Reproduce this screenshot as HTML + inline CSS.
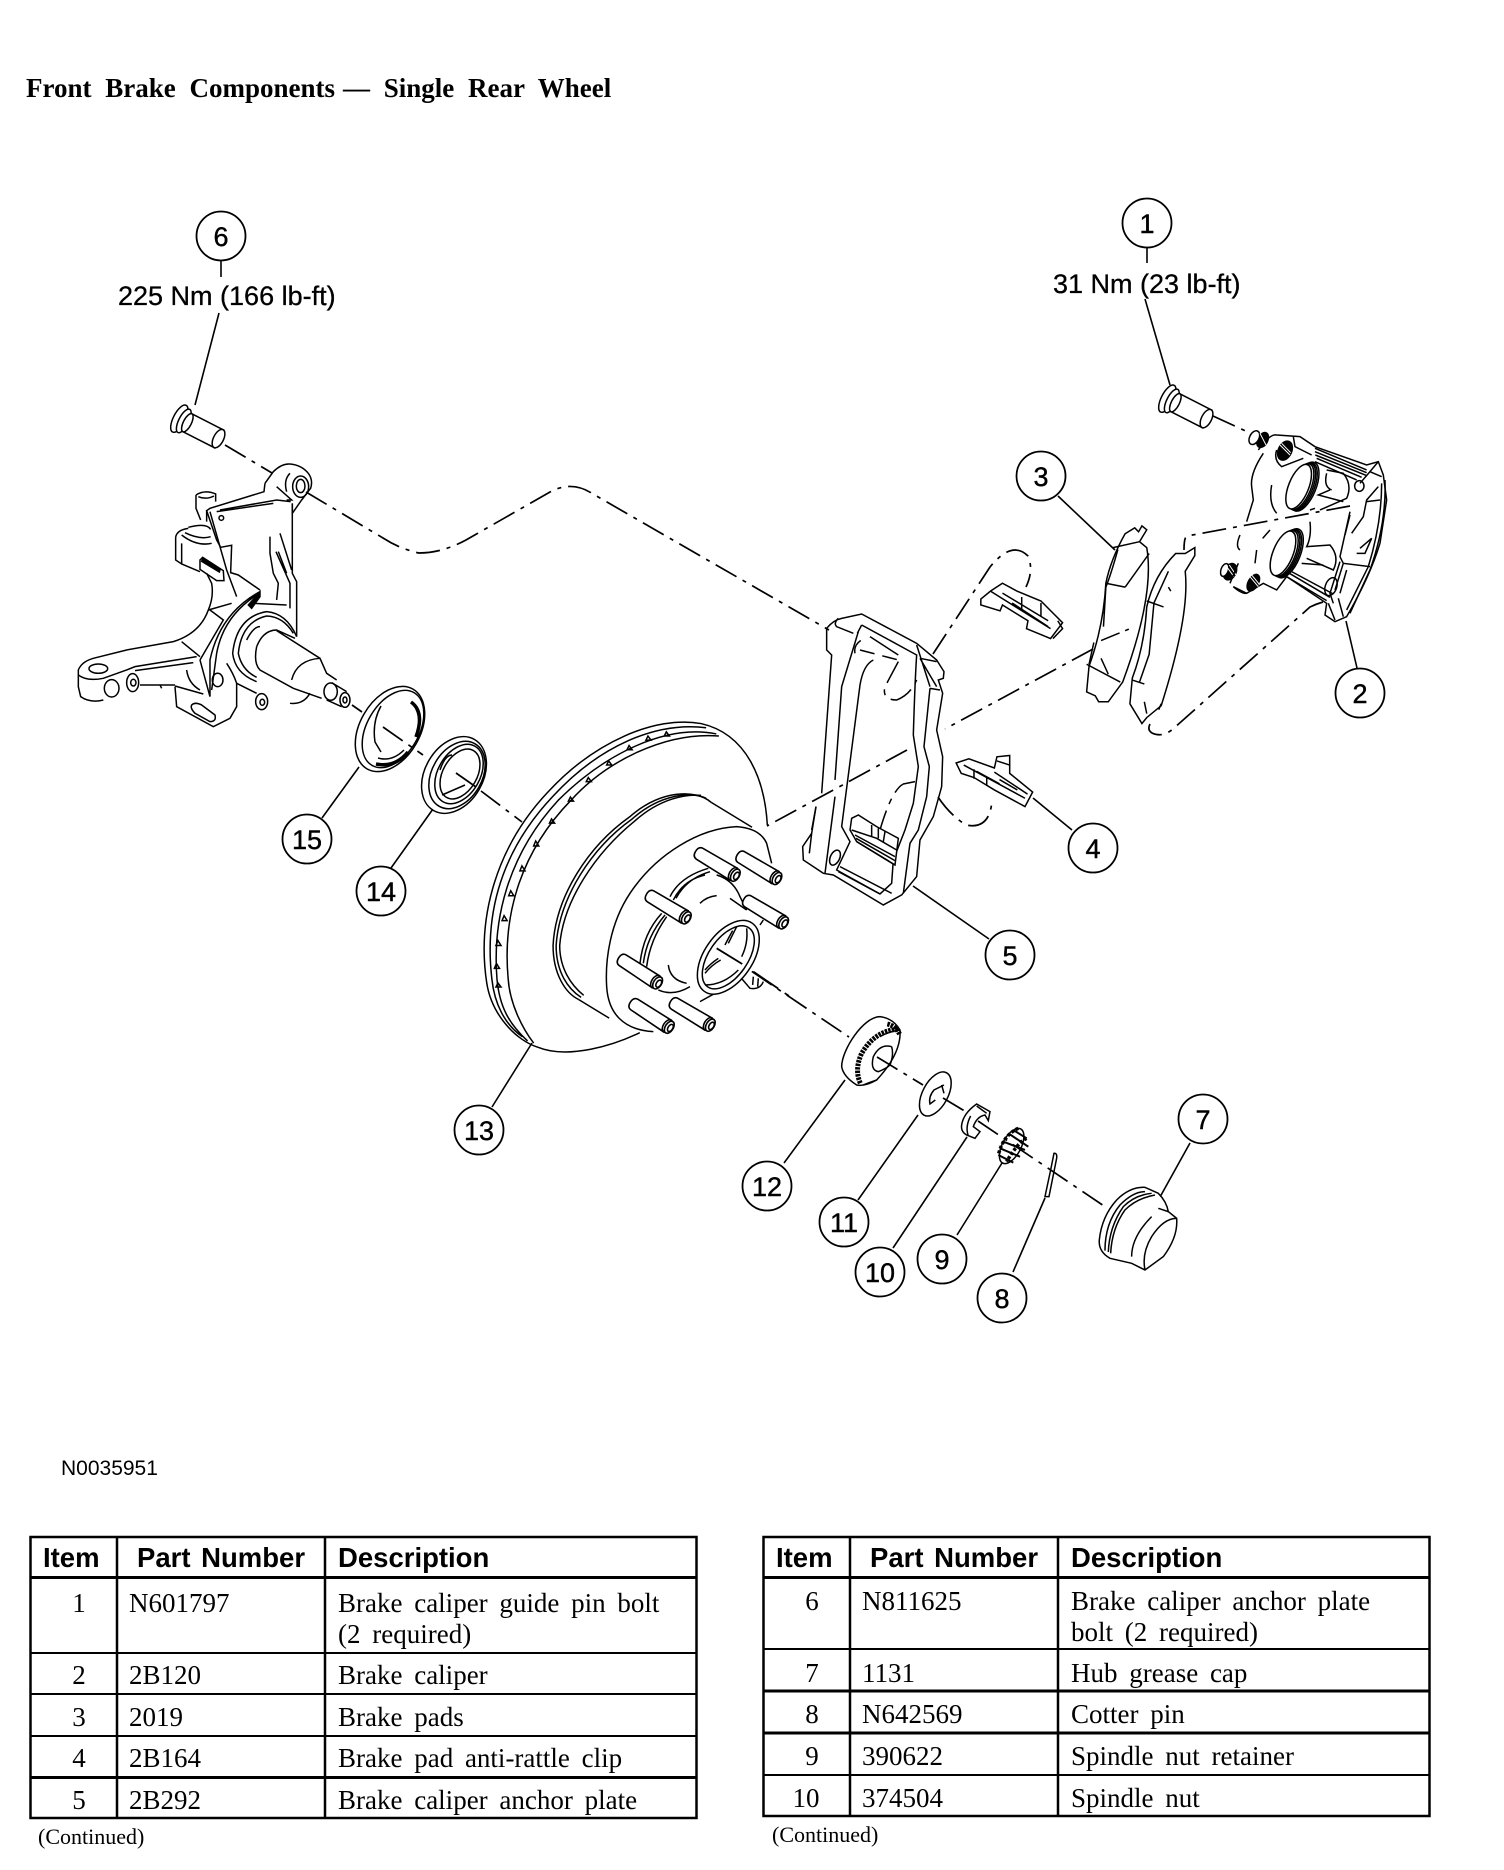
<!DOCTYPE html>
<html><head><meta charset="utf-8"><title>Front Brake Components</title>
<style>
html,body{margin:0;padding:0;background:#fff}
svg{display:block}
path,line,ellipse,circle,polyline,rect{vector-effect:non-scaling-stroke}
.l{fill:none;stroke:#000;stroke-width:1.5}
.l path,.l ellipse,.l line{stroke:#000;stroke-width:1.5}
.w{fill:#fff}
.d{fill:none;stroke:#000;stroke-width:1.7;stroke-dasharray:24 7 4 7}
.c{fill:#fff;stroke:#000;stroke-width:1.8}
.ld{stroke:#000;stroke-width:1.6;fill:none}
.n{font:27px "Liberation Sans",sans-serif;text-anchor:middle;fill:#000;stroke:#000;stroke-width:.4}
.t{font:27px "Liberation Sans",sans-serif;fill:#000;stroke:#000;stroke-width:.3}
.h{font:bold 27.5px "Liberation Sans",sans-serif;fill:#000}
.b{font:27px "Liberation Serif",serif;fill:#000;word-spacing:5px}
.m{text-anchor:middle}
.k{fill:#000;stroke:#000}
</style></head><body>
<svg width="1504" height="1870" viewBox="0 0 1504 1870" xmlns="http://www.w3.org/2000/svg">
<defs>
<g id="stud">
<path class="w" style="stroke:#000;stroke-width:1.6" d="M-118,-19 Q-132,-18 -132,0 Q-132,18 -118,19 L0,21 L0,-21 Z"/>
<ellipse class="w" style="stroke:#000;stroke-width:1.6" cx="0" cy="0" rx="12" ry="21"/>
<ellipse class="w" style="stroke:#000;stroke-width:1.6" cx="7" cy="0" rx="12" ry="20"/>
<ellipse class="w" style="stroke:#000;stroke-width:1.6" cx="11" cy="0" rx="7" ry="12"/>
</g>
<g id="bolt">
<path class="w" style="stroke:#000;stroke-width:1.5" d="M0,-10 L42,-10 Q47,0 42,10 L0,10 Z"/>
<ellipse class="w" style="stroke:#000;stroke-width:1.5" cx="41" cy="0" rx="5" ry="10"/>
<ellipse class="w" style="stroke:#000;stroke-width:1.5" cx="-3" cy="0" rx="6" ry="15"/>
<ellipse class="w" style="stroke:#000;stroke-width:1.5" cx="2" cy="0" rx="5" ry="13"/>
<ellipse class="w" style="stroke:#000;stroke-width:1.5" cx="6" cy="0" rx="4" ry="10"/>
</g>
</defs>
<rect width="1504" height="1870" fill="#fff"/>

<text x="26" y="97" style="font:bold 27px 'Liberation Serif',serif;word-spacing:7px">Front Brake Components<tspan x="343">— Single Rear Wheel</tspan></text>

<!-- dashed assembly axes -->
<path class="d" d="M225,445 L272,473"/>
<path class="d" d="M306,492 L383,538 Q400,549 419,553 Q442,553 466,540 L550,492 Q572,480 593,494 L829,630"/>
<path class="d" d="M1213,416 L1250,433"/>
<path class="d" d="M1350,506 L1187,536 Q1184,537 1184,550"/>
<path class="d" d="M1323,602 Q1316,604 1310,607 L1173,729 Q1162,738 1152,733 Q1147,730 1150,724"/>
<path class="d" d="M1130,629 L945,729"/>
<path class="d" d="M907,750 L767,826"/>
<path class="d" d="M933,654 L990,567 Q1012,540 1028,556 Q1034,570 1026,587"/>
<path class="d" d="M938,797 Q950,815 966,825 Q990,830 992,800"/>
<path class="d" d="M352,705 L362,712"/>
<path class="d" d="M717,948 L849,1037"/>

<!-- leaders -->
<g class="ld">
<path d="M221,261 V277 M219,313 L195,405"/>
<path d="M1147,247 V263 M1145,299 L1170,385"/>
<path d="M1058,496 L1115,550"/>
<path d="M1346,621 L1357,668"/>
<path d="M1033,798 L1072,830"/>
<path d="M913,886 L989,939"/>
<path d="M532,1043 L492,1107"/>
<path d="M845,1080 L784,1163"/>
<path d="M918,1115 L858,1200"/>
<path d="M967,1137 L893,1248"/>
<path d="M1002,1163 L957,1235"/>
<path d="M1045,1198 L1013,1272"/>
<path d="M1190,1143 L1160,1197"/>
<path d="M359,767 L322,818"/>
<path d="M433,809 L391,868"/>
</g>

<!-- bolt 6 -->
<use href="#bolt" transform="translate(182,420) rotate(27)"/>

<!-- knuckle -->
<g class="l" transform="translate(60,440) scale(.3333)">
<path d="M615,130 L640,95 Q665,70 690,72 Q725,75 745,100 Q760,120 752,145 L725,180 L697,220 L697,190"/>
<ellipse cx="722" cy="140" rx="24" ry="32"/>
<ellipse cx="722" cy="138" rx="13" ry="20"/>
<path d="M650,140 L695,180 L680,180 M690,100 Q670,120 680,155"/>
<path d="M615,130 L612,155 L450,205 L440,212 L470,300 L482,322 L515,316 L512,398 L535,405 L600,450"/>
<path d="M480,210 L650,180 L692,185 M470,215 L640,190"/>
<ellipse cx="484" cy="234" rx="7" ry="7"/>
<path d="M450,215 L480,320 L500,390 L530,470"/>
<path d="M697,190 L697,400 L710,425 L710,590"/>
<path d="M630,290 L630,340 L640,400 L655,430 L650,480 M660,280 L695,390 M648,335 L690,430 L690,505 M655,335 L680,400"/>
<path d="M408,165 Q435,148 467,162 L467,185 M408,165 L408,205 L422,240 M440,210 L440,245 M415,170 Q438,180 462,168"/>
<path d="M385,262 Q440,248 452,268 M375,278 Q420,300 452,290 M365,285 Q410,320 455,310"/>
<path d="M347,292 Q350,270 385,265 M347,292 L347,360 L365,372 L420,395 M365,310 L365,372"/>
<path class="w" d="M420,360 L428,352 L490,392 L492,422 L470,422 L420,388 Z"/>
<path class="k" d="M428,356 L480,390 L478,396 L425,364 Z"/>
<path d="M440,400 L455,430 Q462,470 445,510 Q420,580 340,605 L200,630 L100,655 Q65,665 55,690 L55,740 L62,770 Q90,790 130,780"/>
<ellipse cx="115" cy="686" rx="28" ry="14"/>
<path d="M55,705 Q80,725 130,715 L200,690 L225,680 L410,650 M225,692 L400,668 M240,735 L345,735 M300,735 L305,745"/>
<ellipse cx="155" cy="745" rx="22" ry="26"/>
<ellipse cx="218" cy="728" rx="18" ry="27"/>
<ellipse cx="220" cy="728" rx="8" ry="10"/>
<path d="M445,510 L515,490 M365,605 L420,650 M450,510 L490,540 L420,660 M600,455 Q480,520 450,660 L450,770 M420,660 L450,770 M590,465 Q490,530 470,640 L455,750"/>
<path class="k" d="M565,495 L600,455 L600,470 L575,505 Z"/>
<ellipse cx="473" cy="720" rx="16" ry="20"/>
<path d="M710,590 Q680,520 620,515 Q530,530 518,640 Q525,700 590,725 M700,580 Q670,530 620,528 Q545,545 535,640 Q545,690 590,712 M580,490 L680,495"/>
<path d="M590,620 Q610,570 650,570 L705,595 M650,572 L780,655 L800,700 L830,720"/>
<path d="M590,620 Q580,670 600,690 L700,745 L785,775"/>
<path d="M780,655 Q710,660 695,720 M560,600 Q580,560 600,560"/>
<path d="M345,740 L350,800 L460,860 L510,835 L530,800 L530,730 Q520,700 500,670 M380,690 Q385,730 420,750"/>
<path d="M395,795 Q405,785 425,795 L465,825 Q470,845 450,845 L405,820 Q390,805 395,795 Z"/>
<ellipse cx="605" cy="785" rx="18" ry="24"/>
<ellipse cx="607" cy="787" rx="7" ry="9"/>
<path d="M750,760 Q730,795 690,790 M530,730 Q560,745 590,760 M345,738 L430,762"/>
<ellipse cx="812" cy="755" rx="20" ry="26"/>
<ellipse cx="855" cy="780" rx="15" ry="22"/>
<path d="M815,728 L860,755 M800,780 L845,800"/>
<ellipse cx="855" cy="780" rx="6" ry="9"/>
</g>

<!-- seal 15 -->
<g class="l">
<ellipse class="w" cx="390" cy="729" rx="30" ry="46" transform="rotate(30 390 729)"/>
<ellipse cx="393" cy="729" rx="26" ry="42" transform="rotate(30 393 729)"/>
<path d="M413,704 Q422,716 417,733 M378,758 Q392,762 404,750 M381,706 Q372,722 375,742 L381,752"/>
<path style="stroke-width:3.5" d="M411,702 Q425,712 416,737 M376,764 Q395,768 408,752"/>
<path d="M383,727 L423,755" style="stroke-dasharray:24 7 4 7;stroke-width:1.7"/>
</g>
<!-- bearing 14 -->
<g class="l">
<ellipse class="w" cx="454" cy="775" rx="29" ry="41" transform="rotate(30 454 775)"/>
<ellipse cx="457" cy="775" rx="25" ry="36" transform="rotate(30 457 775)"/>
<ellipse cx="459" cy="774" rx="21" ry="32" transform="rotate(30 459 774)"/>
<ellipse cx="460" cy="774" rx="17" ry="27" transform="rotate(30 460 774)"/>
<path d="M456,773 L476,787" style="stroke-width:1.7"/>
<path d="M442,795 L465,785 M440,770 Q445,755 452,755"/>
</g>
<path class="d" d="M481,791 L522,822"/>

<!-- rotor -->
<g class="l" transform="translate(400,680) scale(.5102,.4149)">
<path d="M720,350 C715,240 680,130 590,105 C500,85 380,150 290,270 C190,400 150,570 170,730 C180,810 230,870 270,885 C330,915 420,880 470,850"/>
<path d="M600,115 C500,100 390,160 300,280 C200,410 165,560 180,720 C185,780 205,830 240,860"/>
<path d="M620,130 C520,105 400,180 310,290 C220,410 180,560 190,720 C195,790 215,830 250,870"/>
<path d="M625,135 C520,125 405,195 335,290 C240,410 200,560 212,720 C215,780 240,840 262,875"/>
<path d="M518,135 l4,-10 l6,10 z M482,145 l4,-10 l6,10 z M445,168 l4,-10 l6,10 z M405,205 l4,-10 l6,10 z M365,245 l4,-10 l6,10 z M330,292 l4,-10 l6,10 z M293,345 l4,-10 l6,10 z M262,400 l4,-12 l6,12 z M235,460 l4,-12 l6,12 z M213,520 l4,-12 l6,12 z M200,580 l4,-12 l6,12 z M188,640 l4,-12 l6,12 z M185,695 l4,-12 l6,12 z M188,740 l4,-10 l6,10 z"/>
<path d="M610,295 C580,262 510,265 450,330 C370,400 305,520 300,640 C300,710 325,755 350,770"/>
<path d="M600,285 C570,268 510,275 455,335 C375,405 312,525 306,640 C306,705 330,745 355,765"/>
<path d="M590,278 C560,275 510,285 460,340 C385,415 320,530 313,640 C313,695 335,735 360,760"/>
<path d="M610,295 L690,355 M350,770 L410,815"/>
</g>

<!-- hub -->
<g class="l" transform="translate(590,800) scale(.3333)">
<path class="w" d="M530,130 Q510,85 440,80 C330,85 200,160 120,280 C60,370 45,480 50,560 C55,640 100,690 190,695 L370,590 L545,190 Z" style="stroke:none"/>
<path d="M530,130 Q510,85 440,80 C330,85 200,160 120,280 C60,370 45,480 50,560 C55,640 100,690 190,695 M530,130 L545,190"/>
<path d="M355,205 Q270,230 240,290 M345,225 Q280,240 250,300 M360,215 Q290,235 258,295 M215,340 Q160,400 150,490 M225,345 Q170,410 160,490 M230,350 Q180,420 170,500 M205,570 Q250,590 300,560 M235,495 Q240,540 290,550 M380,225 Q430,240 450,290 L470,330 M420,295 L470,330 M330,310 Q350,290 380,287 M330,605 L375,580 M510,375 L520,360"/>
<use href="#stud" transform="translate(430,222) rotate(31)"/>
<use href="#stud" transform="translate(555,232) rotate(31)"/>
<use href="#stud" transform="translate(575,365) rotate(31)"/>
<use href="#stud" transform="translate(283,350) rotate(31)"/>
<use href="#stud" transform="translate(197,545) rotate(33)"/>
<use href="#stud" transform="translate(232,678) rotate(33)"/>
<use href="#stud" transform="translate(355,672) rotate(31)"/>
<path d="M450,530 L480,565 Q510,570 520,545 M490,530 L488,555 M505,535 L503,560"/>
<ellipse class="w" cx="415" cy="472" rx="72" ry="125" transform="rotate(35 415 472)"/>
<ellipse cx="415" cy="472" rx="58" ry="108" transform="rotate(35 415 472)"/>
<path d="M440,380 Q425,410 415,430 M428,392 Q415,415 405,435 M345,520 Q365,495 392,480 M345,510 Q362,490 385,475 M345,555 Q400,555 445,510 M470,385 Q475,430 455,470"/>
<path d="M380,445 L470,500 M490,515 L600,590" style="stroke-width:1.8;stroke-dasharray:30 8 5 8"/>
</g>

<!-- anchor plate -->
<g class="l" transform="translate(770,590) scale(.3333)">
<path d="M170,115 Q190,90 215,85 L275,72 L440,160 L500,210 L522,245 L520,265 L505,270 L518,310 L500,420 L518,500 L515,590 L490,680 L450,750 L440,860 L395,915 L340,945 L190,855 L160,850 L100,810 L98,770 L125,730 L138,650 M170,115 L170,180 L185,195 L155,610"/>
<path d="M205,85 Q190,100 200,110 L250,130"/>
<path d="M275,105 L440,195 Q435,270 430,435 L445,530 L430,640 L405,720 L370,810 L365,880 L330,912 L200,840 L240,755 L215,710 L270,285 Q280,225 310,210"/>
<path d="M265,125 L215,290 L195,570 M275,105 L262,130 M195,620 L165,850"/>
<path d="M480,295 L510,300 M480,295 L462,470 L478,530 L470,620 L445,720 L420,760 L400,910"/>
<path d="M440,165 L480,290 M450,205 L500,215 M450,205 L500,290 M300,140 L385,195"/>
<ellipse cx="195" cy="803" rx="14" ry="24" transform="rotate(25 195 803)"/>
<path d="M125,730 L118,790 M138,650 L125,720"/>
<path d="M255,190 Q250,165 275,150 M270,180 L385,210" style="stroke-dasharray:15 8"/>
<path d="M385,215 L345,290 Q335,330 380,330 Q420,315 440,270" style="stroke-dasharray:24 7 6 7"/>
<path d="M435,575 L400,582 Q365,600 330,720" style="stroke-dasharray:24 7 6 7"/>
<path class="w" d="M245,685 L265,675 L320,710 L385,745 L375,825 L260,755 L240,720 Z"/>
<path d="M245,720 L320,745 L380,780 M255,735 L375,800 M258,745 L375,812 M260,755 L375,825 M305,705 L305,738 M325,715 L325,745 M345,725 L340,755"/>
<path d="M210,830 L365,910 M205,845 L330,912"/>
</g>

<!-- clip lower (4) -->
<g class="l" transform="translate(400,680) scale(.5102,.4149)">
<path class="w" d="M1090,200 L1115,190 L1165,212 L1170,185 L1195,182 L1195,225 L1240,270 L1225,305 L1165,265 L1125,235 L1100,225 Z"/>
<path d="M1105,205 L1225,285 M1125,215 L1125,238 M1150,235 L1150,255 M1165,222 L1230,275 M1175,240 L1210,265 M1170,195 L1195,205 M1130,220 L1175,250"/>
</g>
<!-- clip upper + pads -->
<g class="l" transform="translate(750,180) scale(.4809,.3953)">
<path class="w" d="M480,1060 L500,1040 L525,1020 L555,1040 L605,1065 L650,1120 L625,1160 L575,1135 L578,1115 L525,1075 L520,1090 L480,1075 Z"/>
<path d="M500,1040 L625,1135 M525,1045 L620,1115 M565,1055 L565,1085 M605,1070 L605,1105 M545,1070 L620,1130 M640,1115 L650,1135 L630,1160"/>
<path class="w" d="M780,895 L800,880 L808,890 L815,875 L825,885 L810,915 L825,930 Q842,1050 775,1270 L745,1320 L725,1320 L718,1305 L700,1295 L705,1230 Q735,1130 740,1020 Q750,960 780,895 Z"/>
<path d="M765,935 Q750,1000 740,1030 L735,1130 M830,945 L780,1030 M740,1020 L780,1030 M700,1225 L770,1270 M715,1170 L705,1225 M730,1210 L745,1250 M755,930 L810,915"/>
<path class="w" d="M885,945 L905,945 L925,930 L925,950 L905,990 Q915,1100 855,1330 L825,1360 L815,1375 L790,1325 L795,1260 Q820,1180 825,1080 Q840,1000 885,945 Z"/>
<path d="M825,1065 L860,1080 M795,1265 L820,1275 M870,990 L840,1070 L830,1200 L810,1270 M820,1320 L825,1350 M870,1030 L875,1040 M850,1340 L855,1325"/>
<path d="M730,1165 L790,1135" style="stroke-dasharray:20 6 4 6"/>
</g>

<!-- bolt 1 + caliper -->
<use href="#bolt" transform="translate(1170,400) rotate(27)"/>
<g class="l" transform="translate(1130,390) scale(.3333)">
<path d="M385,180 Q420,130 440,135 L510,140 L555,170 L710,225 L745,215 L760,255 L770,330 L750,460 Q720,560 650,680 L615,695 L585,675 L590,640 L470,560 L440,600 L400,580 L350,610 L310,590"/>
<path d="M400,190 Q360,250 365,290 L370,330 L350,395 M330,435 Q315,470 330,480 M380,480 L375,520 M425,285 Q415,340 440,370 M420,420 L398,445 M440,180 Q430,210 455,230 L520,205 M490,140 L495,170 L545,195"/>
<path d="M555,175 L710,240 M555,185 L710,248 M556,195 L708,256 M560,205 L695,262 M555,215 L680,270"/>
<path d="M590,240 L640,250 Q668,285 650,325 L570,360 M600,300 L565,315 L640,335 M590,250 Q580,290 605,300 M555,355 L540,360"/>
<path d="M540,395 Q545,440 530,470 L600,465 Q630,500 610,540 L530,505 M515,520 L580,525"/>
<path d="M660,365 L630,500 L640,520 L720,530 M660,375 L645,435 M745,290 L710,330 L700,380 L665,430 M750,330 L710,335 M765,270 Q770,400 720,540 L660,670 M755,280 Q755,400 715,530 L650,660 M690,475 L725,445 L705,490 L680,490"/>
<path d="M630,515 L600,610 L610,640 M640,520 L615,600 M650,540 L630,610 M690,280 L720,245 L745,215 M720,245 L755,260"/>
<ellipse cx="603" cy="590" rx="17" ry="28" transform="rotate(20 603 590)"/>
<ellipse cx="688" cy="288" rx="14" ry="16"/>
<path d="M470,560 L590,632 M478,550 L600,622 M485,545 L610,612 M595,640 L615,690 M625,625 L640,680"/>
<ellipse class="w" cx="524" cy="290" rx="34" ry="78" transform="rotate(22 524 290)"/>
<ellipse class="w" cx="520" cy="290" rx="33" ry="76" transform="rotate(22 520 290)"/>
<ellipse class="w" cx="516" cy="290" rx="32" ry="75" transform="rotate(22 516 290)"/>
<ellipse class="w" cx="512" cy="290" rx="31" ry="73" transform="rotate(22 512 290)"/>
<ellipse class="w" cx="506" cy="290" rx="30" ry="71" transform="rotate(22 506 290)"/>
<ellipse class="w" cx="477" cy="490" rx="34" ry="78" transform="rotate(22 477 490)"/>
<ellipse class="w" cx="473" cy="490" rx="33" ry="76" transform="rotate(22 473 490)"/>
<ellipse class="w" cx="469" cy="490" rx="32" ry="75" transform="rotate(22 469 490)"/>
<ellipse class="w" cx="465" cy="490" rx="31" ry="73" transform="rotate(22 465 490)"/>
<ellipse class="w" cx="459" cy="490" rx="30" ry="71" transform="rotate(22 459 490)"/>
<ellipse class="k" cx="398" cy="150" rx="15" ry="24" transform="rotate(28 398 150)"/>
<ellipse class="w" style="stroke:#000" cx="373" cy="143" rx="14" ry="22" transform="rotate(28 373 143)"/>
<ellipse class="k" cx="465" cy="182" rx="20" ry="30" transform="rotate(25 465 182)"/>
<ellipse class="k" cx="300" cy="545" rx="18" ry="26" transform="rotate(28 300 545)"/>
<ellipse class="w" style="stroke:#000" cx="284" cy="540" rx="11" ry="20" transform="rotate(20 284 540)"/>
<ellipse class="k" cx="370" cy="578" rx="15" ry="27" transform="rotate(30 370 578)"/>
<path style="stroke:#fff;stroke-width:1" d="M290,530 L312,560 M298,525 L318,555 M360,560 L385,590 M365,555 L388,583 M450,165 L480,195 M455,160 L482,188 M390,130 L408,165"/>
<path d="M310,590 Q335,612 350,610 M325,520 L300,580"/>
</g>

<!-- small parts: bearing 12, washer, nut, retainer, cotter pin, cap -->
<g class="l" transform="translate(830,1010) scale(.3333)">
<path class="w" d="M35,170 C35,120 100,20 150,20 Q190,25 210,60 Q215,130 140,210 Q105,230 80,225 Q40,200 35,170 Z"/>
<path style="stroke-width:5;stroke-dasharray:2.5 1" d="M203,58 Q135,62 95,130 Q72,180 92,222 M172,42 Q198,48 210,75"/>
<path d="M100,225 Q125,215 140,210 M210,60 Q175,65 150,80"/>
<path d="M185,110 Q150,100 130,140 Q120,180 145,185 Q170,175 180,165 M185,110 Q192,135 180,165"/>

<ellipse class="w" cx="316" cy="252" rx="38" ry="72" transform="rotate(28 316 252)"/>
<path d="M342,225 L312,240 Q295,260 300,282 L316,270 M335,225 L342,250"/>

<path class="w" d="M395,345 Q400,310 440,282 L480,305 L475,332 L465,315 Q440,320 430,350 L450,365 L435,385 L410,375 Q392,365 395,345 Z"/>
<path d="M422,318 Q405,350 415,378 M440,288 L470,310"/>

<ellipse class="w" cx="545" cy="408" rx="28" ry="58" transform="rotate(28 545 408)"/>
<path style="stroke-width:3.5;stroke-dasharray:3 2" d="M565,355 Q520,375 505,435 M590,385 Q565,395 530,455"/>
<path style="stroke-width:2" d="M535,370 L595,410 M520,395 L585,420 M510,415 L570,440 M505,435 L550,458 M550,360 L590,385"/>

<path class="w" d="M672,430 Q682,428 680,445 L657,560 L645,560 L662,480 Z"/>

<path class="w" d="M808,690 Q815,620 860,570 Q900,530 945,532 L985,550 Q1010,575 1015,605 L1040,625 Q1045,680 1000,740 L945,780 L905,760 L840,745 Q805,725 808,690 Z"/>
<path d="M825,722 Q825,640 870,585 Q910,545 945,545 M835,726 Q838,650 880,590 Q915,555 965,550 M842,730 Q846,655 885,600 Q920,565 975,555"/>
<path d="M905,740 Q905,680 965,620 M1040,625 Q1000,625 965,680 Q935,730 945,780 M985,595 Q1000,600 1015,605"/>
</g>
<path class="d" d="M877,1057 L923,1085"/>
<path class="d" d="M943,1098 L968,1113"/>
<path class="d" d="M978,1121 L1107,1208"/>

<!-- callouts -->
<circle class="c" cx="221" cy="236" r="24.5"/><text class="n" x="221" y="246">6</text>
<circle class="c" cx="1147" cy="223" r="24.5"/><text class="n" x="1147" y="233">1</text>
<circle class="c" cx="1041" cy="476" r="24.5"/><text class="n" x="1041" y="486">3</text>
<circle class="c" cx="1360" cy="693" r="24.5"/><text class="n" x="1360" y="703">2</text>
<circle class="c" cx="1093" cy="848" r="24.5"/><text class="n" x="1093" y="858">4</text>
<circle class="c" cx="1010" cy="955" r="24.5"/><text class="n" x="1010" y="965">5</text>
<circle class="c" cx="479" cy="1130" r="24.5"/><text class="n" x="479" y="1140">13</text>
<circle class="c" cx="767" cy="1186" r="24.5"/><text class="n" x="767" y="1196">12</text>
<circle class="c" cx="844" cy="1222" r="24.5"/><text class="n" x="844" y="1232">11</text>
<circle class="c" cx="880" cy="1272" r="24.5"/><text class="n" x="880" y="1282">10</text>
<circle class="c" cx="942" cy="1259" r="24.5"/><text class="n" x="942" y="1269">9</text>
<circle class="c" cx="1002" cy="1298" r="24.5"/><text class="n" x="1002" y="1308">8</text>
<circle class="c" cx="1203" cy="1119" r="24.5"/><text class="n" x="1203" y="1129">7</text>
<circle class="c" cx="307" cy="839" r="24.5"/><text class="n" x="307" y="849">15</text>
<circle class="c" cx="381" cy="891" r="24.5"/><text class="n" x="381" y="901">14</text>

<text class="t" x="118" y="305">225 Nm (166 lb-ft)</text>
<text class="t" x="1053" y="293">31 Nm (23 lb-ft)</text>
<text x="61" y="1475" style="font:21px 'Liberation Sans',sans-serif">N0035951</text>

<!-- table 1 -->
<g stroke="#000" fill="none">
<rect x="30.5" y="1537" width="666" height="281" stroke-width="2.5"/>
<path stroke-width="2.5" d="M117,1537 V1818 M325,1537 V1818"/>
<path stroke-width="3" d="M30,1577.5 H697 M30,1777.5 H697"/>
<path stroke-width="2" d="M30,1653 H697 M30,1694 H697 M30,1736 H697"/>
</g>
<g>
<text class="h" x="43" y="1567">Item</text><text class="h" x="137" y="1567" style="word-spacing:3px">Part Number</text><text class="h" x="338" y="1567">Description</text>
<text class="b m" x="79" y="1612">1</text><text class="b" x="129" y="1612">N601797</text><text class="b" x="338" y="1612">Brake caliper guide pin bolt</text>
<text class="b" x="338" y="1643">(2 required)</text>
<text class="b m" x="79" y="1684">2</text><text class="b" x="129" y="1684">2B120</text><text class="b" x="338" y="1684">Brake caliper</text>
<text class="b m" x="79" y="1726">3</text><text class="b" x="129" y="1726">2019</text><text class="b" x="338" y="1726">Brake pads</text>
<text class="b m" x="79" y="1767">4</text><text class="b" x="129" y="1767">2B164</text><text class="b" x="338" y="1767">Brake pad anti-rattle clip</text>
<text class="b m" x="79" y="1809">5</text><text class="b" x="129" y="1809">2B292</text><text class="b" x="338" y="1809">Brake caliper anchor plate</text>
<text x="38" y="1844" style="font:22px 'Liberation Serif',serif">(Continued)</text>
</g>

<!-- table 2 -->
<g stroke="#000" fill="none">
<rect x="763.5" y="1537" width="666" height="279" stroke-width="2.5"/>
<path stroke-width="2.5" d="M850,1537 V1816 M1058,1537 V1816"/>
<path stroke-width="3" d="M763,1577.5 H1430 M763,1691 H1430 M763,1733 H1430"/>
<path stroke-width="2" d="M763,1649 H1430 M763,1775 H1430"/>
</g>
<g>
<text class="h" x="776" y="1567">Item</text><text class="h" x="870" y="1567" style="word-spacing:3px">Part Number</text><text class="h" x="1071" y="1567">Description</text>
<text class="b m" x="812" y="1610">6</text><text class="b" x="862" y="1610">N811625</text><text class="b" x="1071" y="1610">Brake caliper anchor plate</text>
<text class="b" x="1071" y="1641">bolt (2 required)</text>
<text class="b m" x="812" y="1682">7</text><text class="b" x="862" y="1682">1131</text><text class="b" x="1071" y="1682">Hub grease cap</text>
<text class="b m" x="812" y="1723">8</text><text class="b" x="862" y="1723">N642569</text><text class="b" x="1071" y="1723">Cotter pin</text>
<text class="b m" x="812" y="1765">9</text><text class="b" x="862" y="1765">390622</text><text class="b" x="1071" y="1765">Spindle nut retainer</text>
<text class="b m" x="806" y="1807">10</text><text class="b" x="862" y="1807">374504</text><text class="b" x="1071" y="1807">Spindle nut</text>
<text x="772" y="1842" style="font:22px 'Liberation Serif',serif">(Continued)</text>
</g>
</svg>
</body></html>
